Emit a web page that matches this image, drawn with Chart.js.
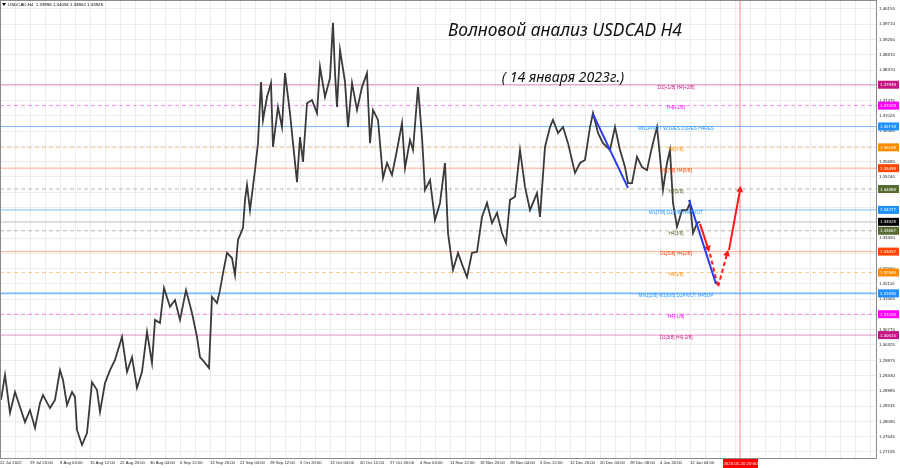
<!DOCTYPE html>
<html lang="ru">
<head>
<meta charset="UTF-8">
<title>Волновой анализ USDCAD H4</title>
<script src="https://cdn.jsdelivr.net/npm/chart.js"></script>
<style>
    body { margin: 0; background: #fff; }
    canvas { display: block; }
</style>
</head>
<body>
<canvas id="chart" width="900" height="468"></canvas>
<script>
// номер бара H4 от начала окна и цена
const bars = [1,5,10,15,20,25,30,35,40,43,50,55,60,63,67,72,75,77,82,87,92,97,100,105,110,115,122,127,132,137,142,147,152,155,160,164,170,175,180,186,192,197,200,205,209,212,217,220,223,227,232,235,238,243,245,247,250,255,258,261,263,267,271,273,278,282,285,290,293,297,300,303,307,312,317,320,325,330,333,335,337,340,345,348,352,357,362,367,370,373,378,383,387,392,397,402,405,410,413,418,422,425,430,435,440,445,448,453,458,463,467,472,477,482,487,492,497,502,506,510,515,520,525,530,537,540,545,550,553,558,563,568,575,580,585,590,593,598,603,610,615,620,625,628,632,637,642,647,652,657,660,663,667,670,673,677,682,687,690,693,697,700];
const closes = [1.2872,1.2945,1.2834,1.2895,1.2851,1.2807,1.2842,1.2790,1.2863,1.2886,1.2848,1.2872,1.2959,1.2930,1.2857,1.2895,1.2880,1.2784,1.2740,1.2775,1.2924,1.2901,1.2837,1.2921,1.2959,1.2989,1.3056,1.2954,1.2997,1.2907,1.2954,1.3071,1.2980,1.3106,1.3097,1.3199,1.3144,1.3164,1.3106,1.3193,1.3126,1.3056,1.2997,1.2980,1.2965,1.3173,1.3155,1.3193,1.3243,1.3302,1.3287,1.3237,1.3340,1.3375,1.3457,1.3501,1.3427,1.3544,1.3623,1.3802,1.3691,1.3758,1.3799,1.3612,1.3729,1.3670,1.3828,1.3711,1.3623,1.3509,1.3641,1.3568,1.3740,1.3749,1.3711,1.3846,1.3758,1.3814,1.3975,1.3828,1.3729,1.3896,1.3802,1.3670,1.3799,1.3720,1.3787,1.3828,1.3623,1.3720,1.3691,1.3521,1.3565,1.3530,1.3603,1.3682,1.3550,1.3632,1.3603,1.3787,1.3641,1.3486,1.3515,1.3398,1.3448,1.3565,1.3360,1.3252,1.3302,1.3261,1.3231,1.3302,1.3305,1.3407,1.3448,1.3389,1.3419,1.3360,1.3331,1.3457,1.3466,1.3603,1.3495,1.3427,1.3477,1.3407,1.3612,1.3670,1.3691,1.3653,1.3670,1.3623,1.3536,1.3565,1.3574,1.3670,1.3711,1.3653,1.3623,1.3603,1.3670,1.3603,1.3553,1.3506,1.3506,1.3583,1.3553,1.3544,1.3612,1.3670,1.3583,1.3486,1.3565,1.3603,1.3448,1.3378,1.3427,1.3427,1.3448,1.3360,1.3389,1.3393];

const timeLabels = ["22 Jul 2022","29 Jul 20:00","8 Aug 04:00","15 Aug 12:00","22 Aug 20:00","30 Aug 04:00","6 Sep 12:00","13 Sep 20:00","21 Sep 04:00","28 Sep 12:00","5 Oct 20:00","13 Oct 04:00","20 Oct 12:00","27 Oct 20:00","4 Nov 04:00","11 Nov 12:00","18 Nov 20:00","28 Nov 04:00","5 Dec 12:00","12 Dec 20:00","20 Dec 04:00","28 Dec 08:00","4 Jan 20:00","12 Jan 04:00"];
const priceTicks = [1.40155,1.39710,1.39260,1.38815,1.38370,1.37920,1.37475,1.37025,1.36580,1.36135,1.35685,1.35240,1.34795,1.34345,1.33900,1.33450,1.33005,1.32560,1.32110,1.31665,1.31220,1.30770,1.30325,1.29875,1.29430,1.28985,1.28535,1.28090,1.27645,1.27195];

// уровни Мюррея
const levelNames = ["D1[+1/8] H4[+2/8]","H4[+1/8]","MN1PIVOT W1RES D1RES H4RES","H4[7/8]","D1[7/8] H4[6/8]","H4[5/8]","W1[7/8] D1[6/8] H4PIVOT","H4[3/8]","D1[5/8] H4[2/8]","H4[1/8]","MN1[3/8] W1[6/8] D1PIVOT H4SUP","H4[-1/8]","D1[3/8] H4[-2/8]"];
const levelValues = [1.37939,1.37329,1.36719,1.36108,1.35498,1.34888,1.34277,1.33667,1.33057,1.32446,1.31836,1.31226,1.30615];
const lastPrice = 1.33928;
const headerText = "USDCAD,H4  1.33996 1.34094 1.33862 1.33928";

// волновая разметка: [бар, цена]
const blueWaveA = [[593, 1.3708], [628, 1.3492]];
const blueWaveB = [[689, 1.3457], [716, 1.3211]];
const redDown = [[700, 1.3387], [708, 1.3316]];
const redDashed = [[710, 1.3299], [718, 1.3202], [727, 1.3299]];
const redUp = [[729, 1.3310], [740, 1.3486]];

const futureBar = 740;
const futureLabel = "2023.01.20 20:00";

// оформление
const levelColors = ['#c71585','#ff00ff','#1e90ff','#ff8c00','#ff4500','#556b2f','#1e90ff','#556b2f','#ff4500','#ff8c00','#1e90ff','#ff00ff','#c71585'];
const levelDashed = [false,true,false,true,false,true,false,true,false,true,false,true,false];
const labelBar = 676;
const yMin = 1.27019, yMax = 1.40418;
const xMax = 877;
const tiny = '4.4px "Liberation Sans"';

function rgba(hex, a) {
    const n = parseInt(hex.slice(1), 16);
    return `rgba(${n >> 16},${(n >> 8) & 255},${n & 255},${a})`;
}

const pts = arr => arr.map(p => ({ x: p[0], y: p[1] }));

function arrowRotation(ctx) {
    const data = ctx.dataset.data;
    const i = ctx.dataIndex;
    if (i === 0) return 0;
    const sx = ctx.chart.scales.x, sy = ctx.chart.scales.y;
    const dx = sx.getPixelForValue(data[i].x) - sx.getPixelForValue(data[i - 1].x);
    const dy = sy.getPixelForValue(data[i].y) - sy.getPixelForValue(data[i - 1].y);
    return Math.atan2(dx, -dy) * 180 / Math.PI;
}

function waveSet(arr, color, dashed, arrow) {
    return {
        data: pts(arr),
        borderColor: color,
        backgroundColor: color,
        borderWidth: 2,
        borderDash: dashed ? [4, 3] : [],
        pointStyle: 'triangle',
        pointRadius: ctx => (arrow && ctx.dataIndex === arr.length - 1 ? 4 : 0),
        pointRotation: arrowRotation,
        pointBorderWidth: 0,
        order: 0
    };
}

const datasets = [];

levelValues.forEach((v, i) => {
    datasets.push({
        data: [{ x: 0, y: v }, { x: xMax, y: v }],
        borderColor: rgba(levelColors[i], levelColors[i] === '#1e90ff' ? 0.6 : 0.45),
        borderWidth: i === 10 ? 1.6 : 1,
        borderDash: levelDashed[i] ? [4, 3] : [],
        pointRadius: 0,
        order: 5
    });
});

datasets.push({
    data: [{ x: 0, y: lastPrice }, { x: xMax, y: lastPrice }],
    borderColor: '#c8c8c8', borderWidth: 1, pointRadius: 0, order: 5
});

datasets.push({
    data: [{ x: futureBar, y: yMin }, { x: futureBar, y: yMax }],
    borderColor: 'rgba(255,120,120,0.45)', borderWidth: 2, pointRadius: 0, order: 6
});

datasets.push({
    data: bars.map((b, i) => ({ x: b, y: closes[i] })),
    borderColor: '#3a3a3a', borderWidth: 1.8, pointRadius: 0, tension: 0, order: 1
});

datasets.push(waveSet(blueWaveA, '#2a3bf0', false, false));
datasets.push(waveSet(blueWaveB, '#2a3bf0', false, false));
datasets.push(waveSet(redDown, '#ff1a1a', false, true));
datasets.push(waveSet(redDashed, '#ff1a1a', true, true));
datasets.push(waveSet(redUp, '#ff1a1a', false, true));

function fitSize(ctx, text, width, family) {
    ctx.font = `20px ${family}`;
    return 20 * width / ctx.measureText(text).width;
}

const overlay = {
    id: 'overlay',
    afterDatasetsDraw(chart) {
        const { ctx, scales: { x, y } } = chart;
        ctx.save();
        ctx.font = '4.7px "Liberation Sans"';
        ctx.textAlign = 'center';
        ctx.textBaseline = 'middle';
        levelNames.forEach((name, i) => {
            ctx.fillStyle = levelColors[i];
            ctx.fillText(name, x.getPixelForValue(labelBar), y.getPixelForValue(levelValues[i]) + 2.5);
        });

        // заголовок
        const fam = '"Noto Sans"';
        const t1 = 'Волновой анализ USDCAD H4';
        const t2 = '( 14 января 2023г.)';
        ctx.fillStyle = '#111';
        ctx.font = `italic ${fitSize(ctx, t1, 250, fam).toFixed(1)}px ${fam}`;
        ctx.fillText(t1, 565, 31);
        ctx.font = `italic ${fitSize(ctx, t2, 127, fam).toFixed(1)}px ${fam}`;
        ctx.fillText(t2, 563, 78);
        ctx.restore();
    },
    afterDraw(chart) {
        const { ctx, chartArea: a, scales: { x, y } } = chart;
        ctx.save();
        ctx.strokeStyle = '#8a8a8a';
        ctx.lineWidth = 1;
        ctx.strokeRect(a.left + 0.5, a.top + 0.5, a.right - a.left - 1, a.bottom - a.top);

        // метки уровней на шкале цен
        ctx.font = tiny;
        ctx.textAlign = 'left';
        ctx.textBaseline = 'middle';
        const box = (v, bg) => {
            const py = y.getPixelForValue(v);
            ctx.fillStyle = bg;
            ctx.fillRect(a.right + 1, py - 4, 21, 8);
            ctx.fillStyle = '#fff';
            ctx.fillText(v.toFixed(5), a.right + 3, py + 0.3);
        };
        levelValues.forEach((v, i) => box(v, levelColors[i]));
        box(lastPrice, '#000');

        // будущая дата
        const fx = x.getPixelForValue(futureBar);
        ctx.fillStyle = '#ff0000';
        ctx.fillRect(fx - 17, a.bottom + 1, 35, 9);
        ctx.fillStyle = '#fff';
        ctx.textAlign = 'center';
        ctx.fillText(futureLabel, fx + 0.5, a.bottom + 5.5);

        // строка символа
        ctx.fillStyle = '#000';
        ctx.beginPath();
        ctx.moveTo(2, 3); ctx.lineTo(6, 3); ctx.lineTo(4, 6); ctx.closePath();
        ctx.fill();
        ctx.textAlign = 'left';
        ctx.fillText(headerText, 8, 5);
        ctx.restore();
    }
};

new Chart(document.getElementById('chart'), {
    type: 'line',
    data: { datasets },
    plugins: [overlay],
    options: {
        responsive: false,
        animation: false,
        layout: { padding: 0, autoPadding: false },
        plugins: { legend: { display: false }, tooltip: { enabled: false } },
        scales: {
            x: {
                type: 'linear',
                min: 0,
                max: xMax,
                afterBuildTicks: s => {
                    s.ticks = [];
                    for (let v = 0; v <= 870; v += 15) s.ticks.push({ value: v });
                },
                afterFit: s => { s.height = 10; s.paddingLeft = 0; s.paddingRight = 0; },
                grid: { color: '#ececec', drawTicks: false },
                border: { display: false },
                ticks: {
                    autoSkip: false,
                    maxRotation: 0,
                    align: 'start',
                    padding: 2,
                    color: '#222',
                    font: { family: 'Liberation Sans', size: 4.2 },
                    callback: v => (v % 30 === 0 ? (timeLabels[v / 30] || '') : '')
                }
            },
            y: {
                position: 'right',
                min: yMin,
                max: yMax,
                afterBuildTicks: s => { s.ticks = priceTicks.map(v => ({ value: v })); },
                afterFit: s => { s.width = 23; s.paddingTop = 0; s.paddingBottom = 0; },
                grid: { color: '#ececec', drawTicks: false },
                border: { display: false },
                ticks: {
                    autoSkip: false,
                    padding: 2,
                    color: '#222',
                    font: { family: 'Liberation Sans', size: 4.4 },
                    callback: v => v.toFixed(5)
                }
            }
        }
    }
});
</script>
</body>
</html>
